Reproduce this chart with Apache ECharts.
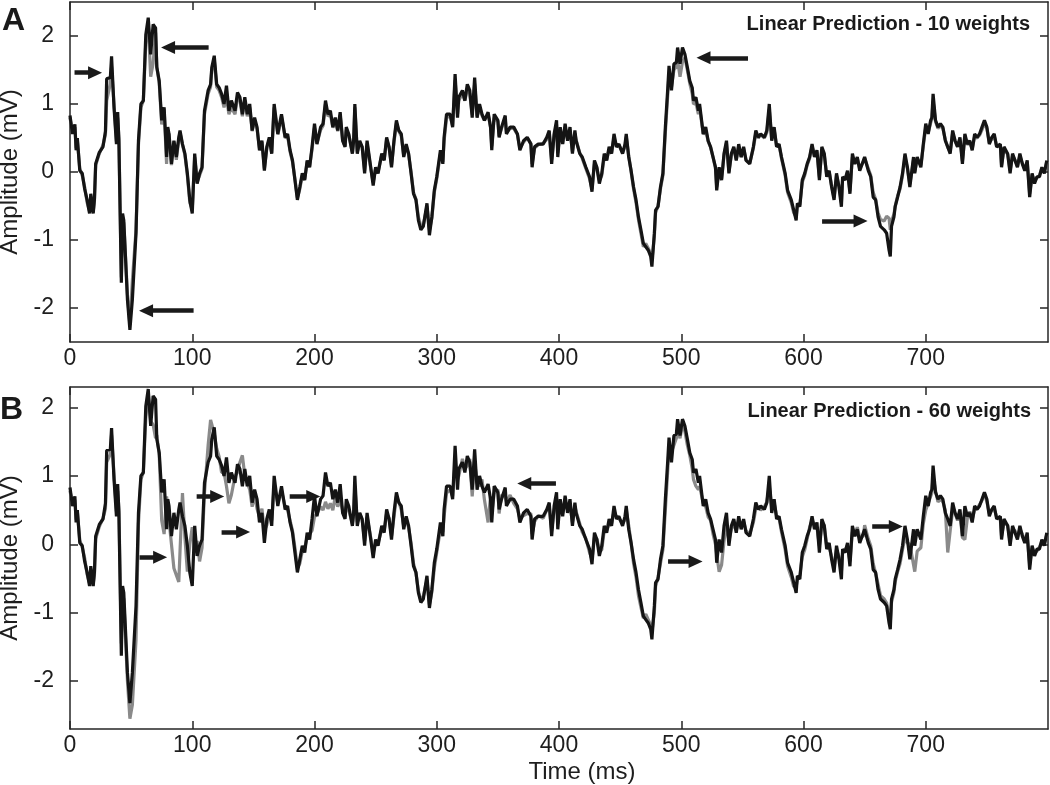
<!DOCTYPE html>
<html>
<head>
<meta charset="utf-8">
<script src="https://cdn.jsdelivr.net/npm/echarts@6/dist/echarts.min.js"></script>
<style>
html,body{margin:0;padding:0;background:#fff;}
#chart{width:1050px;height:785px;}
</style>
</head>
<body>
<div id="chart"></div>
<script>
// Time axis (ms)
const timeMs = [
0,2,4,5,6,8,10,12,14,16,
17,19,20,21,24,27,29,30,33,34,
36,38,39,40,42,43,44,47,49,51,
54,56,58,60,62,64,66,68,70,71,
73,75,77,79,80,81,83,85,87,89,
90,92,94,96,98,100,102,104,106,108,
110,113,115,116,118,120,122,124,126,128,
130,132,135,137,139,141,143,145,147,149,
151,153,155,157,159,161,163,165,167,170,
171,173,176,178,180,182,184,186,188,190,
192,194,196,198,200,202,205,207,209,211,
213,215,217,219,221,223,225,226,228,231,
232,233,235,237,239,241,243,246,248,250,
252,255,257,259,261,263,265,267,269,271,
273,275,277,279,281,283,285,287,289,292,
294,296,298,300,303,305,306,308,311,313,
315,317,318,321,323,325,327,329,331,333,
335,337,339,342,344,345,347,350,351,353,
356,357,360,363,366,368,371,374,377,378,
380,383,387,390,392,394,396,398,399,401,
403,405,407,409,411,413,414,417,419,422,
425,427,429,431,433,435,437,439,441,443,
445,447,449,452,454,455,457,459,461,463,
465,467,469,471,473,475,476,478,479,481,
483,485,487,489,490,492,494,496,497,499,
501,503,505,507,509,510,512,514,515,518,
520,522,524,526,528,529,531,533,535,537,
539,541,543,545,547,549,551,553,556,559,
561,563,565,568,570,572,574,576,578,580,
582,585,587,590,592,594,595,597,599,601,
603,605,607,609,611,613,615,617,619,621,
623,625,627,629,631,632,634,636,638,640,
642,644,646,649,650,653,655,657,659,661,
663,666,668,670,671,672,674,675,677,679,
681,683,685,687,690,691,693,696,698,700,
702,704,705,706,708,710,712,714,716,718,
720,722,724,726,728,730,732,734,736,738,
740,742,744,746,748,750,752,754,756,758,
761,762,764,767,769,771,773,775,777,779,
781,783,785,787,789,791,793,795,797,799
];

// Recorded signal (black, mV)
const recorded = [
0.83,0.56,0.70,0.32,0.50,0.02,-0.02,-0.25,-0.41,-0.61,
-0.32,-0.61,-0.40,0.12,0.29,0.37,0.60,1.37,1.39,1.70,
0.95,0.41,0.88,0.46,-1.63,-0.61,-0.71,-1.88,-2.32,-1.88,
-0.90,0.46,1.00,1.05,2.02,2.27,1.73,2.17,2.12,1.54,
1.34,0.76,0.95,0.22,0.66,0.56,0.12,0.46,0.22,0.51,
0.61,0.41,0.27,-0.02,-0.41,-0.61,0.27,-0.17,-0.02,0.07,
0.90,1.20,1.29,1.54,1.71,1.29,1.24,1.15,1.00,1.27,
0.90,1.05,0.90,1.17,1.10,0.85,1.10,0.85,1.00,0.61,
0.80,0.66,0.32,0.46,0.02,0.37,0.51,0.27,1.00,0.56,
0.66,0.85,0.51,0.56,0.32,0.17,-0.12,-0.41,-0.22,-0.02,
-0.12,0.17,0.07,0.37,0.71,0.41,0.66,0.71,1.05,0.85,
0.90,0.66,0.80,0.61,0.88,0.46,0.37,0.66,0.56,0.27,
0.46,1.00,0.27,0.46,0.37,-0.02,0.46,0.07,-0.20,0.07,
-0.02,0.27,0.17,0.51,0.37,0.07,0.46,0.76,0.61,0.56,
0.22,0.41,0.27,-0.02,-0.32,-0.41,-0.71,-0.85,-0.80,-0.46,
-0.93,-0.66,-0.27,-0.07,0.32,0.12,0.51,0.85,0.85,0.66,
1.44,0.80,1.10,1.20,1.05,1.29,1.20,0.80,1.39,0.80,
1.00,0.85,0.76,0.88,0.66,0.32,0.85,0.76,0.51,0.66,
0.83,0.56,0.66,0.66,0.56,0.32,0.46,0.51,0.41,0.07,
0.37,0.41,0.41,0.51,0.61,0.12,0.56,0.76,0.22,0.66,
0.41,0.71,0.46,0.66,0.27,0.61,0.46,0.27,0.22,0.07,
-0.07,-0.29,0.17,0.07,-0.17,-0.02,0.27,0.17,0.37,0.27,
0.56,0.37,0.41,0.27,0.41,0.56,0.22,0.02,-0.22,-0.41,
-0.66,-0.85,-1.05,-1.10,-1.15,-1.24,-1.39,-0.90,-0.56,-0.51,
-0.22,-0.02,0.66,1.24,1.56,1.20,1.59,1.61,1.83,1.59,
1.83,1.73,1.54,1.34,1.24,1.05,1.10,0.90,1.00,0.56,
0.66,0.46,0.37,0.22,0.07,-0.27,0.07,-0.12,0.27,0.46,
-0.02,0.27,0.37,0.17,0.41,0.22,0.37,0.17,0.12,0.37,
0.61,0.51,0.56,0.51,0.61,1.00,0.46,0.66,0.37,0.41,
0.22,-0.02,-0.27,-0.41,-0.56,-0.71,-0.46,-0.51,-0.12,-0.02,
0.12,0.22,0.41,0.22,0.32,-0.12,0.37,0.27,-0.07,0.02,
-0.22,-0.41,-0.02,-0.22,-0.51,-0.07,-0.12,0.02,-0.32,0.27,
0.12,0.22,0.02,0.17,0.22,0.02,-0.07,-0.37,-0.41,-0.66,
-0.80,-0.85,-0.90,-1.15,-1.24,-0.80,-0.66,-0.51,-0.37,-0.22,
-0.02,0.27,0.07,-0.22,0.22,-0.02,0.22,0.07,0.41,0.71,
0.56,0.76,0.80,1.15,0.76,0.66,0.71,0.66,0.46,0.37,
0.27,0.61,0.46,0.37,0.51,0.12,0.56,0.41,0.46,0.32,
0.56,0.51,0.56,0.66,0.76,0.66,0.41,0.51,0.56,0.37,
0.41,0.07,0.37,0.27,-0.02,0.27,0.17,0.07,0.27,0.12,
0.02,0.17,-0.37,-0.02,-0.17,-0.07,-0.07,0.07,-0.02,0.17
];

// Linear prediction, 10 weights (gray, panel A)
const pred10 = [
0.80,0.58,0.66,0.35,0.47,0.05,-0.05,-0.22,-0.45,-0.58,
-0.35,-0.58,-0.43,0.10,0.27,0.40,0.55,1.05,1.30,1.55,
1.00,0.45,0.80,0.50,-1.55,-0.70,-0.75,-1.80,-2.25,-1.60,
-0.85,0.40,0.95,1.05,1.90,2.20,1.40,1.60,2.05,1.55,
1.30,0.70,0.92,0.12,0.60,0.55,0.10,0.45,0.18,0.48,
0.58,0.40,0.25,-0.05,-0.45,-0.55,0.22,-0.15,-0.05,0.05,
0.85,1.15,1.25,1.50,1.65,1.25,1.20,1.10,0.95,1.10,
0.85,0.95,0.85,1.10,1.05,0.82,1.05,0.82,0.95,0.60,
0.76,0.63,0.35,0.44,0.05,0.35,0.48,0.28,0.95,0.55,
0.63,0.82,0.50,0.53,0.30,0.15,-0.10,-0.38,-0.25,-0.05,
-0.10,0.15,0.08,0.33,0.65,0.42,0.62,0.68,1.00,0.82,
0.85,0.65,0.76,0.60,0.84,0.47,0.38,0.62,0.55,0.28,
0.44,0.95,0.30,0.43,0.36,0.02,0.42,0.05,-0.15,0.05,
0.00,0.25,0.18,0.48,0.36,0.10,0.43,0.72,0.60,0.53,
0.24,0.38,0.25,0.00,-0.30,-0.40,-0.66,-0.80,-0.78,-0.50,
-0.85,-0.68,-0.30,-0.10,0.27,0.15,0.45,0.80,0.82,0.68,
1.35,0.85,1.05,1.15,1.05,1.22,1.15,0.85,1.30,0.82,
0.95,0.83,0.76,0.85,0.66,0.38,0.80,0.74,0.53,0.64,
0.78,0.58,0.64,0.64,0.55,0.35,0.44,0.50,0.42,0.12,
0.35,0.40,0.42,0.48,0.57,0.18,0.52,0.70,0.28,0.62,
0.42,0.66,0.48,0.62,0.30,0.57,0.47,0.28,0.20,0.05,
-0.10,-0.25,0.12,0.05,-0.12,-0.05,0.22,0.18,0.33,0.28,
0.50,0.38,0.40,0.28,0.38,0.52,0.25,0.00,-0.25,-0.45,
-0.70,-0.90,-1.10,-1.05,-1.12,-1.20,-1.30,-0.95,-0.60,-0.50,
-0.25,-0.05,0.58,1.15,1.45,1.25,1.50,1.55,1.65,1.40,
1.62,1.68,1.50,1.30,1.15,1.00,1.02,0.85,0.95,0.55,
0.62,0.45,0.36,0.22,0.05,-0.22,0.05,-0.10,0.25,0.42,
0.00,0.25,0.35,0.18,0.38,0.22,0.35,0.18,0.13,0.35,
0.57,0.50,0.55,0.50,0.58,0.92,0.48,0.62,0.38,0.40,
0.20,-0.05,-0.30,-0.45,-0.60,-0.66,-0.50,-0.48,-0.15,-0.05,
0.10,0.20,0.38,0.23,0.30,-0.08,0.33,0.25,-0.05,0.00,
-0.20,-0.38,-0.05,-0.20,-0.45,-0.10,-0.10,0.00,-0.28,0.22,
0.13,0.20,0.05,0.15,0.20,0.05,-0.05,-0.30,-0.40,-0.60,
-0.70,-0.72,-0.65,-0.68,-0.85,-0.72,-0.62,-0.50,-0.35,-0.25,
-0.05,0.22,0.05,-0.18,0.18,0.00,0.20,0.10,0.38,0.65,
0.58,0.72,0.78,1.05,0.74,0.64,0.68,0.64,0.48,0.36,
0.30,0.57,0.45,0.38,0.48,0.16,0.52,0.40,0.44,0.34,
0.52,0.50,0.54,0.62,0.72,0.64,0.43,0.48,0.53,0.38,
0.38,0.10,0.34,0.26,0.02,0.24,0.18,0.08,0.24,0.13,
0.04,0.14,-0.32,-0.04,-0.14,-0.08,-0.05,0.05,0.00,0.15
];

// Linear prediction, 60 weights (gray, panel B)
const pred60 = [
0.78,0.60,0.65,0.36,0.48,0.06,-0.04,-0.20,-0.44,-0.57,
-0.36,-0.57,-0.45,0.08,0.26,0.38,0.52,1.20,1.32,1.60,
1.02,0.48,0.78,0.52,-1.45,-0.75,-0.80,-2.00,-2.55,-2.35,
-1.40,0.30,0.95,1.05,1.85,2.20,1.80,1.75,1.55,1.60,
1.30,0.35,0.15,0.70,0.55,0.35,0.00,-0.35,-0.45,-0.55,
-0.10,0.75,0.10,-0.40,0.00,0.25,-0.10,0.05,-0.25,-0.05,
0.75,1.45,1.82,1.80,1.62,1.40,1.28,1.05,1.05,0.85,
0.60,0.72,1.00,1.05,1.20,1.30,1.00,0.90,0.80,0.55,
0.72,0.52,0.40,0.52,0.20,0.28,0.45,0.35,0.85,0.60,
0.62,0.78,0.55,0.50,0.35,0.20,-0.05,-0.35,-0.28,-0.10,
-0.05,0.10,0.15,0.20,0.40,0.45,0.55,0.50,0.62,0.52,
0.60,0.50,0.70,0.55,0.65,0.50,0.40,0.55,0.50,0.30,
0.42,0.85,0.32,0.45,0.35,0.05,0.40,0.10,-0.12,0.02,
0.02,0.22,0.20,0.45,0.38,0.12,0.40,0.70,0.62,0.50,
0.26,0.36,0.24,0.02,-0.28,-0.42,-0.68,-0.82,-0.76,-0.52,
-0.88,-0.70,-0.35,-0.12,0.22,0.18,0.40,0.75,0.80,0.70,
1.20,0.95,1.00,1.25,1.10,1.15,1.25,0.70,1.20,0.90,
0.85,0.95,0.65,0.32,0.70,0.45,0.75,0.80,0.45,0.72,
0.70,0.62,0.72,0.60,0.52,0.38,0.42,0.45,0.45,0.15,
0.33,0.42,0.38,0.50,0.55,0.20,0.50,0.68,0.30,0.60,
0.45,0.62,0.50,0.58,0.32,0.55,0.48,0.30,0.18,0.08,
-0.12,-0.22,0.10,0.08,-0.10,-0.08,0.20,0.20,0.30,0.30,
0.48,0.40,0.38,0.30,0.36,0.50,0.28,0.02,-0.28,-0.48,
-0.75,-0.92,-1.08,-1.02,-1.10,-1.18,-1.28,-1.00,-0.62,-0.48,
-0.28,-0.08,0.50,1.10,1.40,1.35,1.45,1.55,1.70,1.55,
1.75,1.65,1.45,1.30,1.10,0.95,0.85,0.80,0.85,0.60,
0.55,0.40,0.35,0.15,0.00,-0.15,-0.40,-0.30,0.05,0.30,
0.05,0.22,0.30,0.20,0.35,0.25,0.33,0.20,0.15,0.32,
0.52,0.55,0.50,0.55,0.62,0.85,0.55,0.60,0.42,0.38,
0.18,-0.08,-0.32,-0.48,-0.62,-0.62,-0.52,-0.45,-0.18,-0.08,
0.08,0.25,0.35,0.28,0.25,-0.02,0.30,0.28,-0.02,-0.05,
-0.18,-0.35,-0.08,-0.18,-0.40,-0.12,-0.08,-0.02,-0.25,0.18,
0.15,0.25,0.10,0.12,0.28,0.08,-0.02,-0.28,-0.42,-0.58,
-0.75,-0.80,-0.86,-1.05,-1.15,-0.85,-0.70,-0.55,-0.40,-0.28,
-0.08,0.10,0.02,0.00,-0.30,-0.40,-0.10,-0.05,0.30,0.50,
0.60,0.70,0.75,1.00,0.78,0.62,0.66,0.62,0.50,-0.12,
0.20,0.50,0.45,0.35,0.45,0.10,0.07,0.38,0.48,0.36,
0.50,0.52,0.58,0.64,0.74,0.62,0.45,0.50,0.52,0.40,
0.36,0.12,0.32,0.28,0.04,0.22,0.20,0.10,0.22,0.15,
0.05,0.12,-0.30,-0.05,-0.12,-0.10,-0.04,0.04,0.02,0.14
];

// Tick labels
const xTicks = [0,100,200,300,400,500,600,700];
const yTicks = [-2,-1,0,1,2];

// Arrow annotations [tailTime, tailAmp, headTime, headAmp]
const arrowsA = [
  [3.7,1.46,20.5,1.46],
  [113.4,1.83,80.2,1.83],
  [101.1,-2.04,62.2,-2.04],
  [554.6,1.68,518.2,1.68],
  [615.2,-0.72,646.7,-0.72]
];
const arrowsB = [
  [56.9,-0.19,73.7,-0.19],
  [103.6,0.70,120.4,0.70],
  [124.0,0.18,141.6,0.18],
  [179.7,0.70,199.0,0.70],
  [397.5,0.89,371.6,0.89],
  [489.2,-0.25,511.7,-0.25],
  [656.2,0.26,675.5,0.26]
];

const FONT = '"Liberation Sans", Arial, Helvetica, sans-serif';
const AX = '#262626';
const zip = vals => timeMs.map((t, i) => [t, vals[i]]);

function mkX(grid, pos, labels) {
  return {
    type: 'value', gridIndex: grid, position: pos,
    min: 0, max: 800, interval: 100,
    axisLine: { show: true, onZero: false, lineStyle: { color: AX, width: 1.5 } },
    axisTick: { show: true, inside: true, length: 8, customValues: xTicks, lineStyle: { color: AX, width: 1.5 } },
    axisLabel: { show: labels, customValues: xTicks, fontSize: 23, color: '#1e1e1e', fontFamily: FONT, margin: 5 },
    splitLine: { show: false }
  };
}
function mkY(grid, pos, labels, lo, hi, name) {
  return {
    type: 'value', gridIndex: grid, position: pos,
    min: lo, max: hi,
    name: name || '', nameLocation: 'middle', nameGap: 46, nameRotate: 90,
    nameTextStyle: { fontSize: 24, color: '#1e1e1e', fontFamily: FONT },
    axisLine: { show: true, onZero: false, lineStyle: { color: AX, width: 1.5 } },
    axisTick: { show: true, inside: true, length: 8, customValues: yTicks, lineStyle: { color: AX, width: 1.5 } },
    axisLabel: { show: labels, customValues: yTicks, fontSize: 23, color: '#1e1e1e', fontFamily: FONT, margin: 16 },
    splitLine: { show: false }
  };
}
function arrowMark(list) {
  return {
    silent: true, animation: false,
    symbol: ['none', 'triangle'], symbolSize: [13, 14],
    label: { show: false },
    lineStyle: { color: '#1a1a1a', width: 4.5, type: 'solid' },
    emphasis: { disabled: true },
    data: list.map(a => [{ coord: [a[0], a[1]] }, { coord: [a[2], a[3]] }])
  };
}
const grayStyle = { color: '#8a8a8a', width: 3.2 };
const blackStyle = { color: '#141414', width: 3.2 };

const chart = echarts.init(document.getElementById('chart'), null, { renderer: 'canvas' });
chart.setOption({
  animation: false,
  backgroundColor: '#ffffff',
  grid: [
    { left: 70, right: 2, top: 2, height: 340, containLabel: false, outerBoundsMode: 'none' },
    { left: 70, right: 2, top: 387, height: 342, containLabel: false, outerBoundsMode: 'none' }
  ],
  xAxis: [mkX(0, 'bottom', true), mkX(0, 'top', false), mkX(1, 'bottom', true), mkX(1, 'top', false)],
  yAxis: [
    mkY(0, 'left', true, -2.5, 2.5, 'Amplitude (mV)'),
    mkY(0, 'right', false, -2.5, 2.5),
    mkY(1, 'left', true, -2.7, 2.3, 'Amplitude (mV)'),
    mkY(1, 'right', false, -2.7, 2.3)
  ],
  series: [
    { type: 'line', xAxisIndex: 0, yAxisIndex: 0, data: zip(pred10), showSymbol: false, lineStyle: grayStyle, itemStyle: { color: '#8a8a8a' }, z: 2 },
    { type: 'line', xAxisIndex: 0, yAxisIndex: 0, data: zip(recorded), showSymbol: false, lineStyle: blackStyle, itemStyle: { color: '#141414' }, z: 3, markLine: arrowMark(arrowsA) },
    { type: 'line', xAxisIndex: 2, yAxisIndex: 2, data: zip(pred60), showSymbol: false, lineStyle: grayStyle, itemStyle: { color: '#8a8a8a' }, z: 2 },
    { type: 'line', xAxisIndex: 2, yAxisIndex: 2, data: zip(recorded), showSymbol: false, lineStyle: blackStyle, itemStyle: { color: '#141414' }, z: 3, markLine: arrowMark(arrowsB) }
  ],
  graphic: [
    { type: 'text', x: 2, y: 21, style: { text: 'A', font: 'bold 32px ' + FONT, fill: '#1a1a1a', verticalAlign: 'middle', align: 'left' } },
    { type: 'text', x: 0, y: 410, style: { text: 'B', font: 'bold 32px ' + FONT, fill: '#1a1a1a', verticalAlign: 'middle', align: 'left' } },
    { type: 'text', x: 1030, y: 24.5, style: { text: 'Linear Prediction - 10 weights', font: 'bold 20px ' + FONT, fill: '#1a1a1a', verticalAlign: 'middle', align: 'right' } },
    { type: 'text', x: 1031, y: 411, style: { text: 'Linear Prediction - 60 weights', font: 'bold 20px ' + FONT, fill: '#1a1a1a', verticalAlign: 'middle', align: 'right' } },
    { type: 'text', x: 582, y: 772, style: { text: 'Time (ms)', font: '24px ' + FONT, fill: '#1e1e1e', verticalAlign: 'middle', align: 'center' } }
  ]
});
</script>
</body>
</html>
